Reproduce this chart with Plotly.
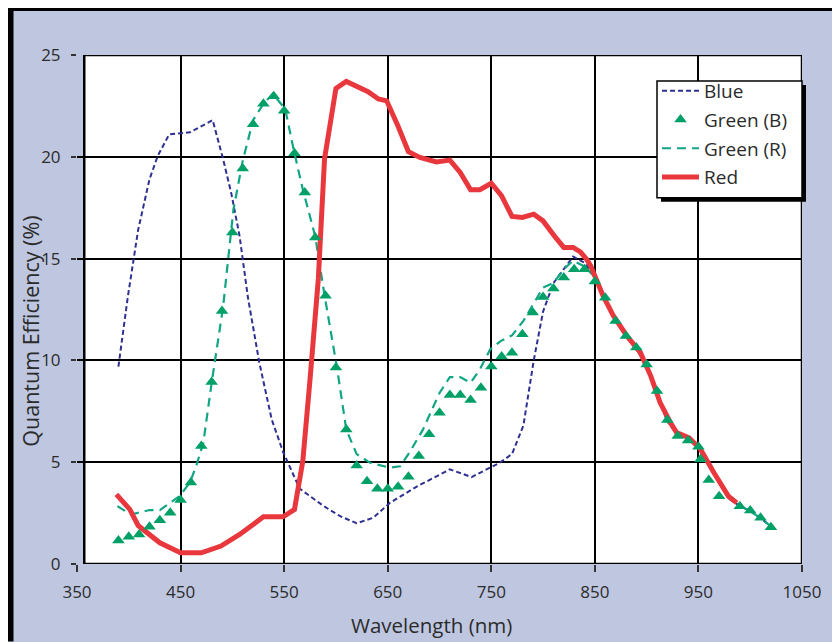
import plotly.graph_objects as go

# wavelength (nm) / quantum efficiency (%)
blue_nm = [390, 399, 409, 420, 428, 439, 459, 481, 491, 499, 507, 515, 526, 538, 549,
           565, 588, 604, 620, 636, 652, 678, 710, 731, 758, 770, 781, 791, 800, 810,
           829, 840, 850, 860, 870, 880, 890, 900, 910, 920, 930, 940, 950, 960, 970,
           980, 990, 1000, 1010, 1020]
blue_qe = [9.7, 13.1, 16.4, 18.9, 20.05, 21.1, 21.2, 21.8, 19.9, 18.2, 16.1, 13.1, 9.9, 7.1, 5.5,
           3.7, 2.85, 2.35, 2.0, 2.27, 3.0, 3.8, 4.65, 4.27, 4.97, 5.4, 6.8, 10.0, 12.4, 13.8,
           15.1, 14.8, 14.1, 13.0, 12.0, 11.25, 10.6, 9.7, 8.3, 7.0, 6.35, 6.2, 5.8, 4.9, 4.0,
           3.2, 2.85, 2.6, 2.25, 1.85]

green_b_nm = [390, 400, 410, 420, 430, 440, 450, 460, 470, 480, 490, 500, 510, 520, 530,
              540, 550, 560, 570, 580, 590, 600, 610, 620, 630, 640, 650, 660, 670, 680,
              690, 700, 710, 720, 730, 740, 750, 760, 770, 780, 790, 800, 810, 820, 830,
              840, 850, 860, 870, 880, 890, 900, 910, 920, 930, 940, 950, 952, 960, 970,
              990, 1000, 1010, 1020]
green_b_qe = [1.15, 1.34, 1.45, 1.83, 2.15, 2.52, 3.14, 4.0, 5.8, 8.94, 12.43, 16.28, 19.43, 21.6, 22.6,
              22.97, 22.26, 20.18, 18.25, 16.04, 13.17, 9.65, 6.61, 4.84, 4.07, 3.7, 3.7, 3.8, 4.29, 5.3,
              6.37, 7.43, 8.3, 8.3, 8.05, 8.66, 9.7, 10.19, 10.38, 11.28, 12.35, 13.12, 13.53, 14.07, 14.48,
              14.48, 13.87, 13.08, 11.94, 11.2, 10.63, 9.8, 8.5, 7.07, 6.29, 6.07, 5.76, 5.14, 4.12, 3.33,
              2.84, 2.63, 2.27, 1.81]

green_r_nm = [389, 402, 420, 430, 449, 459, 465, 472, 480, 491, 501, 510, 520, 530, 539,
              551, 559, 568, 580, 589, 601, 610, 620, 633, 652, 662, 671, 684, 700, 710,
              720, 730, 739, 749, 759, 770, 781, 791, 800, 810, 820, 829, 839, 850, 860,
              870, 880, 890, 900, 910, 920, 930, 940, 950, 960, 970, 980, 990, 1000, 1010, 1020]
green_r_qe = [2.84, 2.43, 2.65, 2.65, 3.33, 4.0, 4.8, 5.96, 8.9, 12.6, 17.4, 19.8, 21.8, 22.6, 23.1,
              22.35, 20.4, 18.4, 16.1, 13.2, 9.65, 6.6, 5.4, 4.97, 4.73, 4.8, 5.47, 6.6, 8.4, 9.18,
              9.18, 8.9, 9.56, 10.55, 10.95, 11.23, 11.94, 12.84, 13.58, 13.8, 14.48, 14.9, 14.64, 14.1, 13.0,
              12.0, 11.25, 10.6, 9.7, 8.3, 7.0, 6.35, 6.2, 5.8, 4.9, 4.0, 3.2, 2.85, 2.6, 2.25, 1.85]

red_nm = [388, 401, 409, 430, 450, 470, 489, 507, 530, 549, 560, 568, 575, 583, 589,
          600, 610, 631, 641, 649, 660, 670, 681, 697, 710, 720, 730, 739, 750, 760,
          770, 780, 791, 800, 812, 820, 829, 836, 842, 846, 858, 868, 881, 894, 904,
          913, 923, 929, 941, 952, 965, 979, 987]
red_qe = [3.42, 2.68, 1.89, 1.04, 0.55, 0.55, 0.88, 1.45, 2.32, 2.32, 2.68, 5.05, 9.07, 14.0, 19.9,
          23.36, 23.7, 23.2, 22.84, 22.75, 21.5, 20.25, 19.97, 19.75, 19.84, 19.23, 18.38, 18.38, 18.7, 18.08,
          17.07, 17.02, 17.18, 16.85, 16.04, 15.55, 15.55, 15.33, 14.97, 14.64, 13.17, 12.18, 11.2, 10.38, 9.23,
          7.93, 6.94, 6.45, 6.2, 5.63, 4.48, 3.33, 3.0]

x_ticks = [350, 450, 550, 650, 750, 850, 950, 1050]
y_ticks = [0, 5, 10, 15, 20, 25]

LAV = "#bfc7e0"
FONT = "Open Sans"
TXT = "#2b2b2b"

# the page body adds an 8px offset; positions below are in screen pixels
OFF = 8
W, H = 840 - OFF, 642 - OFF
ML, MT = 77 - OFF, 55 - OFF
MR = W - (802 - OFF)
MB = H - (564.5 - OFF)
PW, PH = W - ML - MR, H - MT - MB


def px(x):
    return (x - OFF - ML) / PW


def py(y):
    return (H - MB - (y - OFF)) / PH


fig = go.Figure()

fig.add_trace(go.Scatter(x=blue_nm, y=blue_qe, mode="lines", name="Blue",
                         line=dict(color="#2e3192", width=2, dash="5px,3px"),
                         legendrank=1, legendgroup="a"))
fig.add_trace(go.Scatter(x=green_r_nm, y=green_r_qe, mode="lines", name="Green (R)",
                         line=dict(color="#12a584", width=2.2, dash="9px,6px"),
                         legendrank=3, legendgroup="c"))
fig.add_trace(go.Scatter(x=red_nm, y=red_qe, mode="lines", name="Red",
                         line=dict(color="#e8383d", width=5),
                         legendrank=4, legendgroup="d"))
fig.add_trace(go.Scatter(x=green_b_nm, y=green_b_qe, mode="markers", name="Green (B)",
                         marker=dict(symbol="triangle-up", size=11, color="#00a066"),
                         legendrank=2, legendgroup="b"))

shapes = [
    # white plot area with black frame (starts a little right of the 350 axis)
    dict(type="rect", xref="x", yref="y", x0=357, x1=1050, y0=0, y1=25,
         fillcolor="white", line=dict(color="black", width=2.5), layer="below"),
    # black bars along the top and left edge of the page
    dict(type="rect", xref="paper", yref="paper", x0=px(8), x1=px(840), y0=py(11), y1=py(7),
         fillcolor="black", line=dict(width=0)),
    dict(type="rect", xref="paper", yref="paper", x0=px(8), x1=px(13.5), y0=py(642), y1=py(7),
         fillcolor="black", line=dict(width=0)),
    # legend box with drop shadow
    dict(type="rect", xref="paper", yref="paper", x0=px(661), x1=px(806), y0=py(202), y1=py(85),
         fillcolor="black", line=dict(width=0)),
    dict(type="rect", xref="paper", yref="paper", x0=px(657), x1=px(802), y0=py(198), y1=py(81),
         fillcolor="white", line=dict(color="black", width=1.5)),
]

annotations = [
    dict(text="Quantum Efficiency (%)", xref="paper", yref="paper", x=px(31), y=py(332),
         xanchor="center", yanchor="middle",
         textangle=-90, showarrow=False, font=dict(family=FONT, size=21.5, color=TXT)),
    dict(text="Wavelength (nm)", xref="paper", yref="paper", x=px(431), y=py(626),
         xanchor="center", yanchor="middle",
         showarrow=False, font=dict(family=FONT, size=20.5, color=TXT)),
]

fig.update_layout(
    width=W, height=H,
    margin=dict(l=ML, r=MR, t=MT, b=MB),
    paper_bgcolor=LAV, plot_bgcolor=LAV,
    font=dict(family=FONT, size=17, color=TXT),
    shapes=shapes, annotations=annotations,
    showlegend=True,
    legend=dict(x=px(657), y=py(72), xanchor="left", yanchor="top",
                bgcolor="rgba(0,0,0,0)", borderwidth=0,
                font=dict(family=FONT, size=19, color=TXT),
                tracegroupgap=1, traceorder="grouped", itemwidth=37),
)
fig.update_xaxes(range=[350, 1050], tickvals=x_ticks, showgrid=True, gridcolor="black",
                 gridwidth=2, zeroline=False, showline=False, ticks="outside", ticklen=7,
                 tickwidth=1.5, tickcolor="#333", ticklabelstandoff=6)
fig.update_yaxes(range=[0, 25], tickvals=y_ticks, showgrid=True, gridcolor="black",
                 gridwidth=2, zeroline=False, showline=False, ticks="outside", ticklen=5,
                 tickwidth=1.5, tickcolor="#333", ticklabelstandoff=7)

fig.write_html("out.html")
